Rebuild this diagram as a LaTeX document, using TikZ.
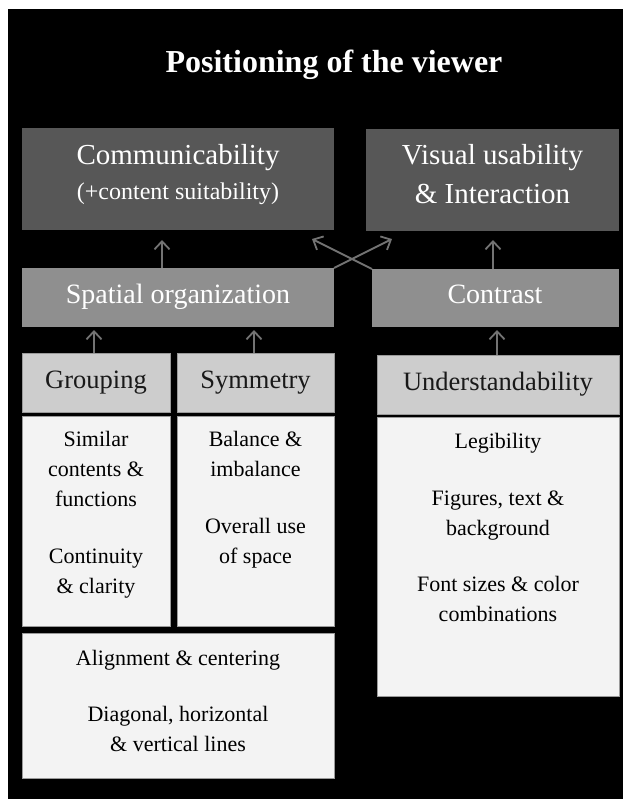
\documentclass[tikz,border=0pt]{standalone}
\usepackage{fontspec}
\setmainfont{Liberation Serif}
\usetikzlibrary{arrows.meta}
\definecolor{dkbox}{HTML}{575757}
\definecolor{mdbox}{HTML}{8F8F8F}
\definecolor{hdbox}{HTML}{CDCDCD}
\definecolor{ltbox}{HTML}{F3F3F3}
\definecolor{arrowc}{HTML}{737373}
\definecolor{edgec}{HTML}{9A9A9A}
\begin{document}
\begin{tikzpicture}[x=1pt,y=-1pt,
  box/.style={inner sep=0pt, outer sep=0pt, anchor=north west},
  litebox/.style={box, draw=edgec, line width=0.8pt},
  txt/.style={anchor=base, inner sep=0pt},
  ftitle/.style={font=\fontsize{32}{36}\selectfont\bfseries, text=white},
  ftop/.style={font=\fontsize{29}{33}\selectfont, text=white},
  fsub/.style={font=\fontsize{24}{28}\selectfont, text=white},
  fmid/.style={font=\fontsize{28}{32}\selectfont, text=white},
  fhead/.style={font=\fontsize{26.5}{30}\selectfont, text=black!90},
  fbody/.style={font=\fontsize{22}{26}\selectfont, text=black},
  arr/.style={draw=arrowc, line width=1.8pt, -{Straight Barb[length=8pt,width=15pt]}}
]
\useasboundingbox (0,0) rectangle (623,799);
\fill[white] (0,0) rectangle (623,799);
\fill[black] (8,9) rectangle (623,799);

% title
\node[txt, ftitle] (title) at (334,73) {Positioning of the viewer};

% top boxes
\node[box, fill=dkbox, minimum width=312pt, minimum height=102pt] (comm) at (22,128) {};
\node[box, fill=dkbox, minimum width=253pt, minimum height=102pt] (vis) at (366,129) {};
\node[txt, ftop] (commA) at (178,165) {Communicability};
\node[txt, fsub] (commB) at (178,200) {(+content suitability)};
\node[txt, ftop] (visA) at (492.5,165) {Visual usability};
\node[txt, ftop] (visB) at (492.5,204) {\& Interaction};

% middle boxes
\node[box, fill=mdbox, minimum width=312pt, minimum height=59pt] (spatial) at (22,268) {};
\node[box, fill=mdbox, minimum width=247pt, minimum height=58pt] (contrast) at (372,269) {};
\node[txt, fmid] (spatialT) at (178,303) {Spatial organization};
\node[txt, fmid] (contrastT) at (495,303) {Contrast};

% header boxes
\node[litebox, fill=hdbox, minimum width=148pt, minimum height=59pt] (group) at (22,353) {};
\node[litebox, fill=hdbox, minimum width=157pt, minimum height=59pt] (symm) at (177,353) {};
\node[litebox, fill=hdbox, minimum width=242pt, minimum height=59pt] (under) at (377,355) {};
\node[txt, fhead] (groupT) at (96,388) {Grouping};
\node[txt, fhead] (symmT) at (255.5,388) {Symmetry};
\node[txt, fhead] (underT) at (498,390) {Understandability};

% content boxes
\node[litebox, fill=ltbox, minimum width=148pt, minimum height=210pt] (groupC) at (22,416) {};
\node[litebox, fill=ltbox, minimum width=157pt, minimum height=210pt] (symmC) at (177,416) {};
\node[litebox, fill=ltbox, minimum width=242pt, minimum height=279pt] (underC) at (377,417) {};
\node[litebox, fill=ltbox, minimum width=312pt, minimum height=145pt] (alignC) at (22,633) {};

\node[txt, fbody] (g1) at (96,446) {Similar};
\node[txt, fbody] (g2) at (96,476) {contents \&};
\node[txt, fbody] (g3) at (96,506) {functions};
\node[txt, fbody] (g4) at (96,563) {Continuity};
\node[txt, fbody] (g5) at (96,593) {\& clarity};

\node[txt, fbody] (s1) at (255.5,446) {Balance \&};
\node[txt, fbody] (s2) at (255.5,476) {imbalance};
\node[txt, fbody] (s3) at (255.5,533) {Overall use};
\node[txt, fbody] (s4) at (255.5,563) {of space};

\node[txt, fbody] (u1) at (498,448) {Legibility};
\node[txt, fbody] (u2) at (498,505) {Figures, text \&};
\node[txt, fbody] (u3) at (498,535) {background};
\node[txt, fbody] (u4) at (498,591) {Font sizes \& color};
\node[txt, fbody] (u5) at (498,621) {combinations};

\node[txt, fbody] (a1) at (178,665) {Alignment \& centering};
\node[txt, fbody] (a2) at (178,721) {Diagonal, horizontal};
\node[txt, fbody] (a3) at (178,751) {\& vertical lines};

% arrow ends
\coordinate (tipComm) at (162,240);
\coordinate (tipVis) at (493,240);
\coordinate (tipCross1) at (392,239);
\coordinate (tipCross2) at (312,239);
\coordinate (tipGroup) at (94,330);
\coordinate (tipSymm) at (254,330);
\coordinate (tipUnder) at (497,330);

\draw[arr] (spatial.north -| tipComm) -- (tipComm);
\draw[arr] (contrast.north -| tipVis) -- (tipVis);
\draw[arr] (spatial.north east) -- (tipCross1);
\draw[arr] (contrast.north west) -- (tipCross2);
\draw[arr] (group.north -| tipGroup) -- (tipGroup);
\draw[arr] (symm.north -| tipSymm) -- (tipSymm);
\draw[arr] (under.north -| tipUnder) -- (tipUnder);
\end{tikzpicture}
\end{document}
